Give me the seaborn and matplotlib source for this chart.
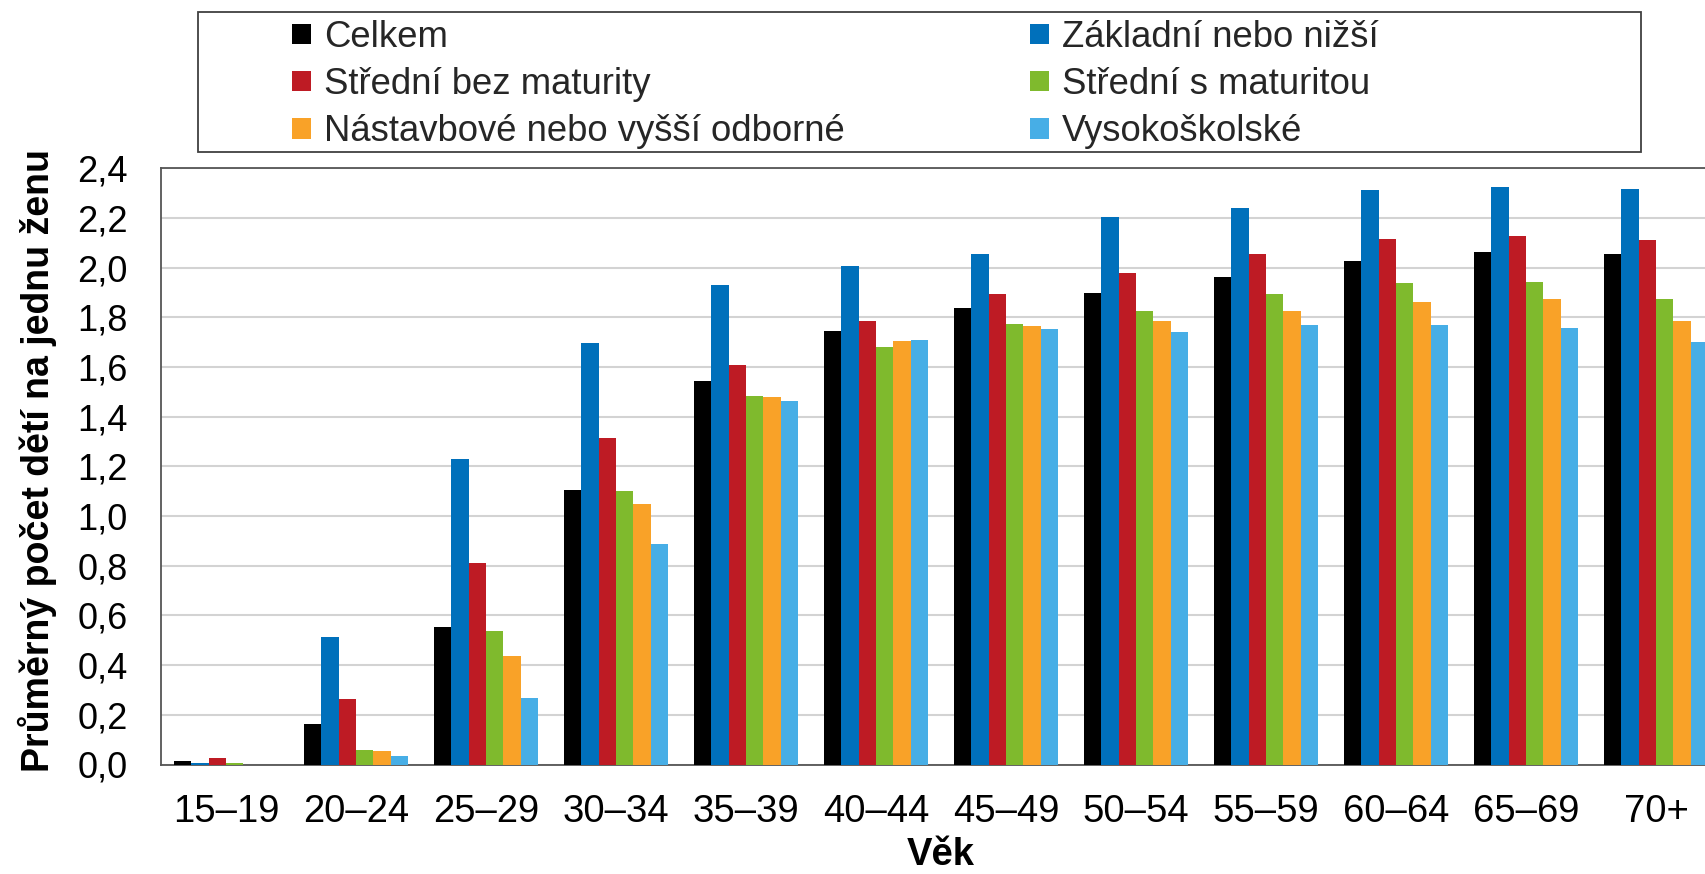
import numpy as np
import pandas as pd
import matplotlib
matplotlib.use("Agg")
import matplotlib.pyplot as plt
import matplotlib.patches as mpatches
from matplotlib.ticker import FuncFormatter
import seaborn as sns

age_groups = ["15–19", "20–24", "25–29", "30–34", "35–39", "40–44",
              "45–49", "50–54", "55–59", "60–64", "65–69", "70+"]

series_names = ["Celkem", "Základní nebo nižší", "Střední bez maturity",
                "Střední s maturitou", "Nástavbové nebo vyšší odborné", "Vysokoškolské"]

celkem      = [0.014, 0.162, 0.552, 1.103, 1.543, 1.747, 1.839, 1.898, 1.963, 2.027, 2.065, 2.054]
zakladni    = [0.008, 0.515, 1.228, 1.695, 1.932, 2.006, 2.057, 2.202, 2.242, 2.313, 2.323, 2.315]
stredni_bez = [0.025, 0.264, 0.813, 1.316, 1.610, 1.784, 1.895, 1.979, 2.057, 2.115, 2.129, 2.113]
stredni_s   = [0.006, 0.059, 0.536, 1.101, 1.484, 1.682, 1.772, 1.827, 1.893, 1.938, 1.944, 1.873]
nastavbove  = [0.000, 0.053, 0.436, 1.047, 1.478, 1.706, 1.766, 1.787, 1.826, 1.860, 1.873, 1.787]
vysokoskol  = [0.000, 0.033, 0.267, 0.889, 1.465, 1.710, 1.752, 1.742, 1.771, 1.771, 1.758, 1.701]

colors = ["#000000", "#0070BB", "#BE1B24", "#7FBA2D", "#F9A228", "#47AEE6"]

y_ticks = [0.0, 0.2, 0.4, 0.6, 0.8, 1.0, 1.2, 1.4, 1.6, 1.8, 2.0, 2.2, 2.4]

all_series = [celkem, zakladni, stredni_bez, stredni_s, nastavbove, vysokoskol]
rows = []
for name, vals in zip(series_names, all_series):
    for g, v in zip(age_groups, vals):
        rows.append({"Věk": g, "Vzdělání": name, "Hodnota": v})
df = pd.DataFrame(rows)

sns.set_style("white")
plt.rcParams["font.family"] = ["Liberation Sans", "DejaVu Sans"]

W, H = 1706, 874
fig = plt.figure(figsize=(W / 100, H / 100), dpi=100)
ax_left, ax_bottom = 161 / W, (H - 764.5) / H
ax_w, ax_h = 1560 / W, (764.5 - 168.3) / H
ax = fig.add_axes([ax_left, ax_bottom, ax_w, ax_h])

sns.barplot(data=df, x="Věk", y="Hodnota", hue="Vzdělání",
            order=age_groups, hue_order=series_names,
            palette=colors, saturation=1, width=0.8, linewidth=0, errorbar=None,
            legend=False, ax=ax, zorder=3)

ax.set_xlim(-0.5, len(age_groups) - 0.5)
ax.set_ylim(0, 2.4)
ax.set_yticks(y_ticks)
ax.yaxis.set_major_formatter(FuncFormatter(lambda v, p: f"{v:.1f}".replace(".", ",")))
ax.tick_params(axis="y", length=0, pad=24, labelsize=26, labelcolor="black")

ax.set_xticks(np.arange(-0.5, len(age_groups), 1.0))
ax.set_xticklabels([])
ax.set_xticks(np.arange(len(age_groups)), minor=True)
ax.set_xticklabels(age_groups, minor=True)
ax.tick_params(axis="x", which="major", length=11, width=1.2, color="#555555", direction="out")
ax.tick_params(axis="x", which="minor", length=0, pad=21.5, labelsize=27.5, labelcolor="black")

ax.grid(axis="y", color="#D3D3D3", linewidth=1.5, zorder=0)
ax.grid(axis="x", visible=False)
ax.set_axisbelow(True)
for side in ["left", "top", "bottom", "right"]:
    ax.spines[side].set_color("#555555")
    ax.spines[side].set_linewidth(1.3)

ax.set_ylabel("Průměrný počet dětí na jednu ženu", fontsize=27, fontweight="bold", color="black")
ax.yaxis.set_label_coords((57 - 161) / 1560, 0.51)
ax.set_xlabel("Věk", fontsize=27.5, fontweight="bold", color="black")
ax.xaxis.set_label_coords(0.5, -0.121)

# legend frame
box_l, box_r, box_t, box_b = 198, 1641, 12.3, 152
fig.patches.append(mpatches.Rectangle((box_l / W, (H - box_b) / H), (box_r - box_l) / W,
                                      (box_b - box_t) / H, transform=fig.transFigure,
                                      fill=False, edgecolor="#404040", linewidth=1.3))

handles = [mpatches.Patch(facecolor=c, edgecolor="none") for c in colors]
leg_kw = dict(frameon=False, fontsize=26.3, handlelength=0.5, handleheight=0.5,
              handletextpad=0.36, labelspacing=0.33, borderpad=0, borderaxespad=0,
              loc="upper left")
col1 = [0, 2, 4]
col2 = [1, 3, 5]
leg1 = fig.legend([handles[i] for i in col1], [series_names[i] for i in col1],
                  bbox_to_anchor=(292.5 / W, (H - 20) / H), **leg_kw)
leg2 = fig.legend([handles[i] for i in col2], [series_names[i] for i in col2],
                  bbox_to_anchor=(1030.5 / W, (H - 20) / H), **leg_kw)

fig.savefig("out.png", dpi=100)
